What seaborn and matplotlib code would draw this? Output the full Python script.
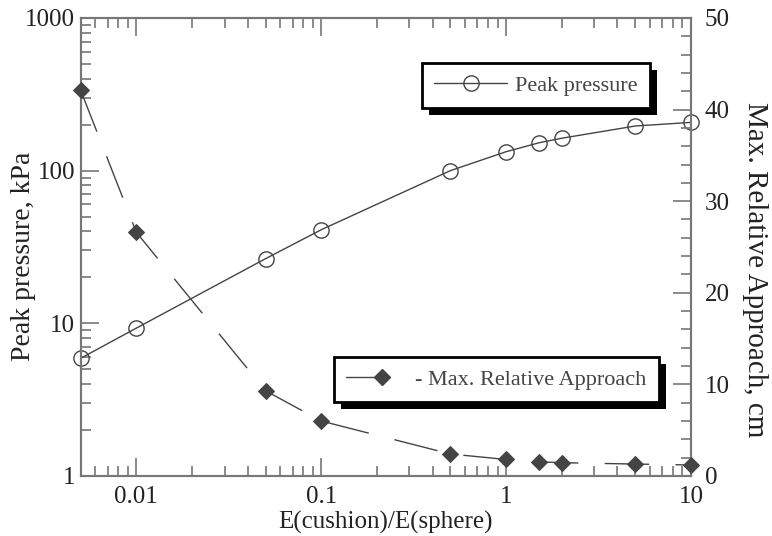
import numpy as np
import matplotlib
matplotlib.use("Agg")
import matplotlib.pyplot as plt
import seaborn as sns
from matplotlib.lines import Line2D
from matplotlib.legend_handler import HandlerLine2DCompound
from matplotlib.patches import Rectangle
from matplotlib.transforms import IdentityTransform
from matplotlib.ticker import FixedLocator, MultipleLocator, FuncFormatter, NullFormatter

# data
ratio = [0.005, 0.01, 0.05, 0.1, 0.5, 1, 1.5, 2, 5, 10]
peak_pressure = [5.9, 9.3, 26.5, 41, 100, 133, 152, 163, 196, 207]
max_approach = [42.1, 26.6, 9.3, 6.0, 2.4, 1.8, 1.55, 1.45, 1.3, 1.2]

x_ticks = [0.01, 0.1, 1, 10]
left_ticks = [1, 10, 100, 1000]
right_ticks = [0, 10, 20, 30, 40, 50]

line_c = "#444444"
spine_c = "#777777"
text_c = "#222222"

sns.set_style("ticks")
plt.rcParams["font.family"] = ["Liberation Serif", "DejaVu Serif"]


# legend handler: marker sits at the right end of the line
class EndMarkerHandler(HandlerLine2DCompound):
    def get_xdata(self, legend, xdescent, ydescent, width, height, fontsize):
        xdata = np.array([-xdescent, -xdescent + width])
        return xdata, np.array([-xdescent + width])


fig = plt.figure(figsize=(7.72, 5.36), dpi=100)
ax = fig.add_axes([0.1045, 0.112, 0.7905, 0.8545])
ax.set_xscale("log")
ax.set_yscale("log")

sns.lineplot(x=ratio, y=peak_pressure, ax=ax, color=line_c, linewidth=1,
             marker="o", markersize=11, markerfacecolor="none",
             markeredgecolor=line_c, markeredgewidth=1, clip_on=False, zorder=3)
ax.set_xlim(0.005, 10)
ax.set_ylim(1, 1000)

ax2 = ax.twinx()
sns.lineplot(x=ratio, y=max_approach, ax=ax2, color=line_c, linewidth=1,
             linestyle=(0, (32, 19)), marker="D", markersize=8,
             markeredgecolor=line_c, markerfacecolor=line_c, clip_on=False, zorder=3)
ax2.set_ylim(0, 50)

# ticks
ax.xaxis.set_major_locator(FixedLocator(x_ticks))
ax.xaxis.set_major_formatter(FuncFormatter(lambda v, p: f"{v:g}"))
ax.xaxis.set_minor_formatter(NullFormatter())
ax.yaxis.set_major_locator(FixedLocator(left_ticks))
ax.yaxis.set_major_formatter(FuncFormatter(lambda v, p: f"{v:g}"))
ax.yaxis.set_minor_formatter(NullFormatter())
ax2.yaxis.set_major_locator(FixedLocator(right_ticks))
ax2.yaxis.set_minor_locator(MultipleLocator(2))

ax.tick_params(axis="x", which="both", direction="in", top=True, bottom=True,
               color=spine_c, labelcolor=text_c, labelsize=18, pad=7)
ax.tick_params(axis="y", which="both", direction="in", left=True, right=False,
               color=spine_c, labelcolor=text_c, labelsize=18, pad=4)
ax2.tick_params(axis="y", which="both", direction="in", left=False, right=True,
                color=spine_c, labelcolor=text_c, labelsize=18, pad=10)
for a in (ax, ax2):
    a.tick_params(which="major", length=13, width=1.2)
    a.tick_params(which="minor", length=7, width=1.2)
    for s in a.spines.values():
        s.set_color(spine_c)
        s.set_linewidth(1.5)

ax.set_xlabel("E(cushion)/E(sphere)", fontsize=18, color=text_c, va="center")
ax.xaxis.set_label_coords(0.5, -0.101)
ax.set_ylabel("Peak pressure, kPa", fontsize=20, color=text_c, va="center")
ax.yaxis.set_label_coords(-0.093, 0.48)
ax2.set_ylabel("Max. Relative Approach, cm", fontsize=21, color=text_c,
               rotation=270, va="center")
ax2.yaxis.set_label_coords(1.105, 0.45)

# legends with hard black shadow
h1 = Line2D([], [], color=line_c, linewidth=1, marker="o", markersize=11,
            markerfacecolor="none", markeredgecolor=line_c)
h2 = Line2D([], [], color=line_c, linewidth=1, marker="D", markersize=8,
            markerfacecolor=line_c, markeredgecolor=line_c)

leg_kw = dict(frameon=True, fancybox=False, framealpha=1, edgecolor="black",
              prop={"size": 16}, labelcolor="#444444", borderaxespad=0,
              borderpad=0.55, numpoints=1)
leg1 = ax2.legend([h1], ["Peak pressure"], loc="upper left",
                  bbox_to_anchor=(0.559, 0.902), handlelength=3.3,
                  handletextpad=0.35, **leg_kw)
leg1.get_frame().set_linewidth(2)
ax2.add_artist(leg1)
leg2 = ax2.legend([h2], ["- Max. Relative Approach"], loc="upper left",
                  bbox_to_anchor=(0.415, 0.26), handlelength=1.6,
                  handletextpad=1.5, handler_map={h2: EndMarkerHandler()},
                  **leg_kw)
leg2.get_frame().set_linewidth(2)

fig.canvas.draw()
for leg in (leg1, leg2):
    bb = leg.get_frame().get_window_extent()
    shadow = Rectangle((bb.x0 + 7, bb.y0 - 7), bb.width, bb.height,
                       transform=IdentityTransform(), facecolor="black",
                       edgecolor="none", zorder=leg.get_zorder() - 0.1,
                       clip_on=False)
    ax2.add_artist(shadow)

fig.savefig("out.png", dpi=100)
